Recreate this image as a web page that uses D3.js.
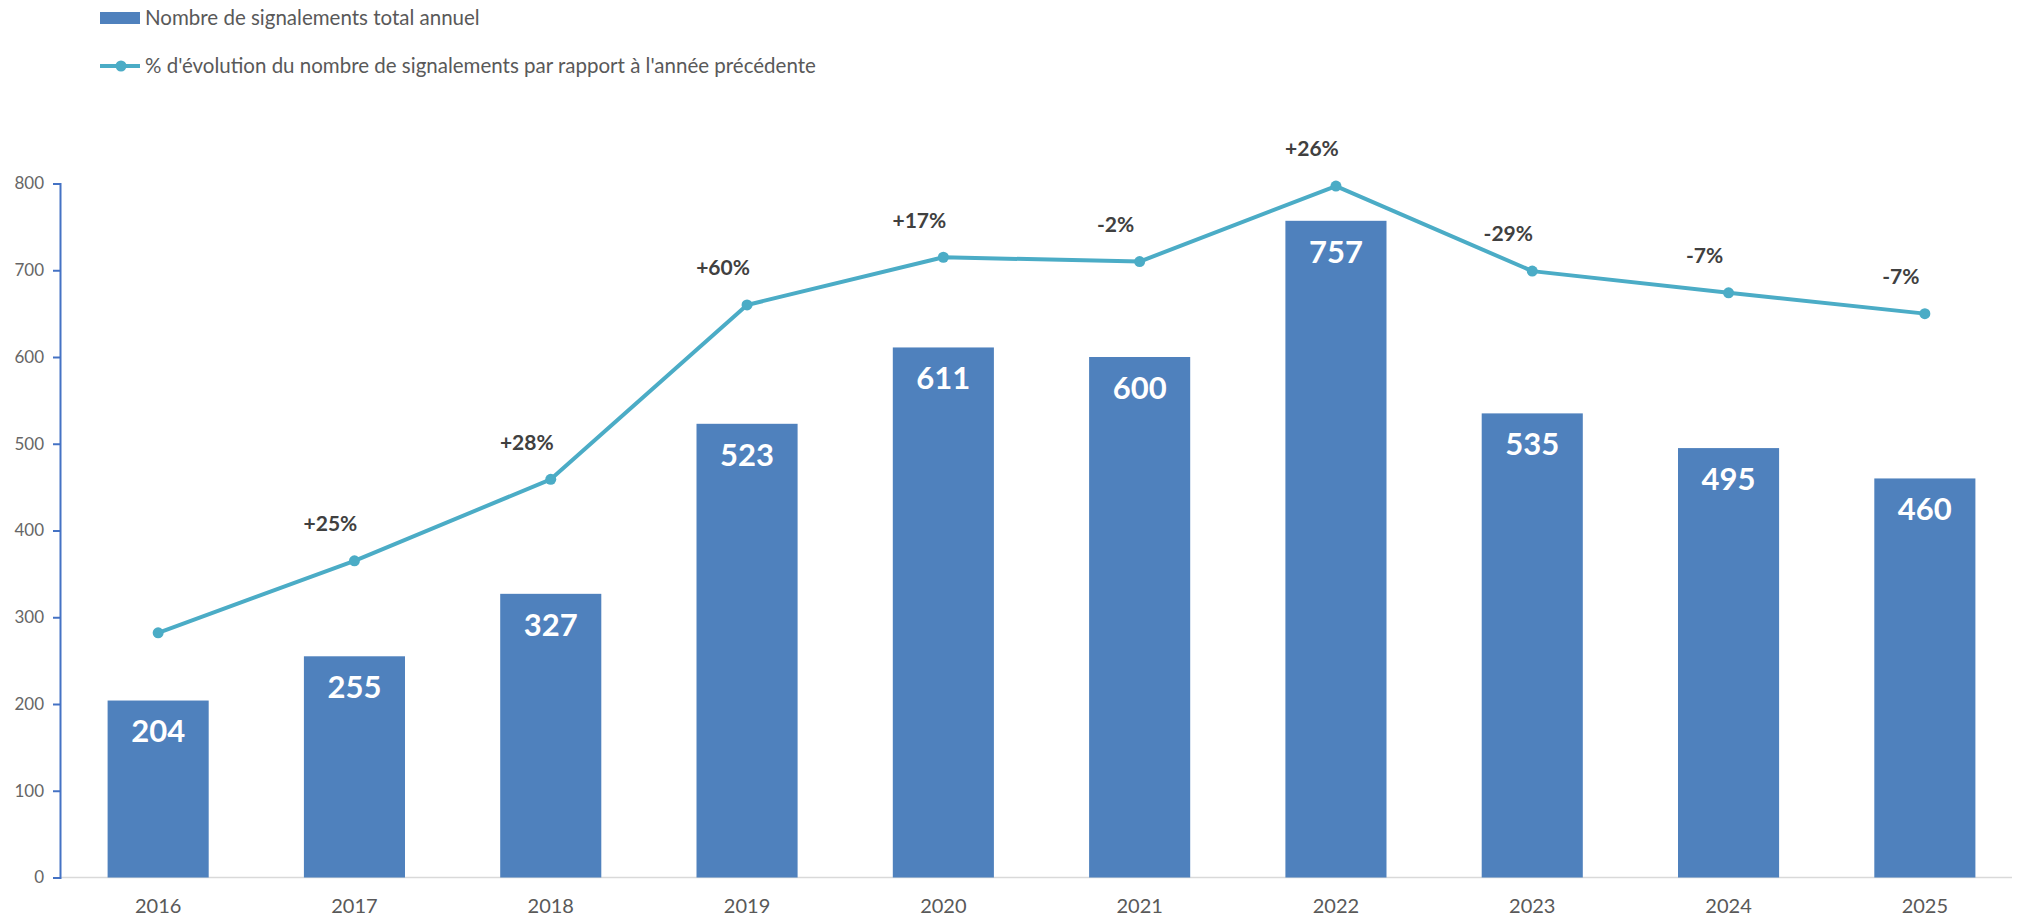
<!DOCTYPE html>
<html lang="fr">
  <head>
    <meta charset="utf-8">
    <title>Signalements</title>
    <style>
      body { margin: 0; background: #fff; }
      svg { display: block; font-family: Lato, "Open Sans", sans-serif; }
    </style>
  </head>
  <body>
    <script src="https://d3js.org/d3.v7.min.js"></script>
    <script>
    // data
    const years = ["2016", "2017", "2018", "2019", "2020", "2021", "2022", "2023", "2024", "2025"]
    const totals = [204, 255, 327, 523, 611, 600, 757, 535, 495, 460]
    // height of the evolution line, read on the left axis
    const lineLevels = [282, 365, 459, 660, 715, 710, 797, 699, 674, 650]
    const evolutionLabels = ["", "+25%", "+28%", "+60%", "+17%", "-2%", "+26%", "-29%", "-7%", "-7%"]
    const yTicks = [0, 100, 200, 300, 400, 500, 600, 700, 800]
    const legendLabels = ["Nombre de signalements total annuel",
                          "% d'évolution du nombre de signalements par rapport à l'année précédente"]

    const w = 2017
    const h = 917
    const barColor = "#4f81bd"
    const lineColor = "#4bacc6"
    const textGrey = "#595959"

    const data = years.map((y, i) => ({
      year: y, total: totals[i], level: lineLevels[i], label: evolutionLabels[i]
    }))

    const svg = d3.select("body").append("svg")
      .attr("width", w)
      .attr("height", h)

    const x = d3.scaleBand()
      .domain(years)
      .range([60, 2023])
      .paddingInner(0.485)
      .paddingOuter(0.2425)

    const y = d3.scaleLinear()
      .domain([0, 800])
      .range([877.5, 183.5])

    // x axis (light grey baseline)
    svg.append("line")
      .attr("x1", 60).attr("x2", 2012)
      .attr("y1", y(0)).attr("y2", y(0))
      .attr("stroke", "#d9d9d9")
      .attr("stroke-width", 1.5)

    svg.append("g")
      .selectAll("text")
      .data(years)
      .join("text")
      .attr("x", d => x(d) + x.bandwidth() / 2)
      .attr("y", 906)
      .attr("dy", "0.35em")
      .attr("text-anchor", "middle")
      .attr("fill", textGrey)
      .style("font-size", "20px")
      .text(d => d)

    // bars
    svg.append("g")
      .selectAll("rect")
      .data(data)
      .join("rect")
      .attr("x", d => x(d.year))
      .attr("y", d => y(d.total))
      .attr("width", x.bandwidth())
      .attr("height", d => y(0) - y(d.total))
      .attr("fill", barColor)

    svg.append("g")
      .selectAll("text")
      .data(data)
      .join("text")
      .attr("x", d => x(d.year) + x.bandwidth() / 2)
      .attr("y", d => y(d.total) + 31)
      .attr("dy", "0.35em")
      .attr("text-anchor", "middle")
      .attr("fill", "#fff")
      .style("font-size", "31px")
      .style("font-weight", "bold")
      .text(d => d.total)

    // y axis
    const yAxis = d3.axisLeft(y)
      .tickValues(yTicks)
      .tickSize(7)
      .tickPadding(9)

    const gy = svg.append("g")
      .attr("transform", "translate(60,0)")
      .call(yAxis)
    gy.select(".domain").attr("stroke", "#4472c4").attr("stroke-width", 2)
    gy.selectAll(".tick line").attr("stroke", "#4472c4").attr("stroke-width", 2)
    gy.selectAll(".tick text")
      .attr("fill", "#666")
      .style("font-size", "17px")
      .style("font-family", "Lato, sans-serif")

    // evolution line
    const line = d3.line()
      .x(d => x(d.year) + x.bandwidth() / 2)
      .y(d => y(d.level))

    svg.append("path")
      .datum(data)
      .attr("d", line)
      .attr("fill", "none")
      .attr("stroke", lineColor)
      .attr("stroke-width", 4)
      .attr("stroke-linejoin", "round")

    svg.append("g")
      .selectAll("circle")
      .data(data)
      .join("circle")
      .attr("cx", d => x(d.year) + x.bandwidth() / 2)
      .attr("cy", d => y(d.level))
      .attr("r", 5.5)
      .attr("fill", lineColor)

    svg.append("g")
      .selectAll("text")
      .data(data.filter(d => d.label))
      .join("text")
      .attr("x", d => x(d.year) + x.bandwidth() / 2 - 24)
      .attr("y", d => y(d.level) - 37)
      .attr("dy", "0.35em")
      .attr("text-anchor", "middle")
      .attr("fill", "#404040")
      .style("font-size", "21px")
      .style("font-weight", "bold")
      .text(d => d.label)

    // legend
    const legend = svg.append("g")

    legend.append("rect")
      .attr("x", 100).attr("y", 12)
      .attr("width", 40).attr("height", 12)
      .attr("fill", barColor)

    legend.append("line")
      .attr("x1", 100).attr("x2", 140)
      .attr("y1", 66).attr("y2", 66)
      .attr("stroke", lineColor)
      .attr("stroke-width", 4)

    legend.append("circle")
      .attr("cx", 121).attr("cy", 66).attr("r", 5.5)
      .attr("fill", lineColor)

    legend.selectAll("text")
      .data(legendLabels)
      .join("text")
      .attr("x", 145)
      .attr("y", (d, i) => 18 + i * 48)
      .attr("dy", "0.35em")
      .attr("fill", textGrey)
      .style("font-size", "20.5px")
      .text(d => d)
    </script>
  </body>
</html>
